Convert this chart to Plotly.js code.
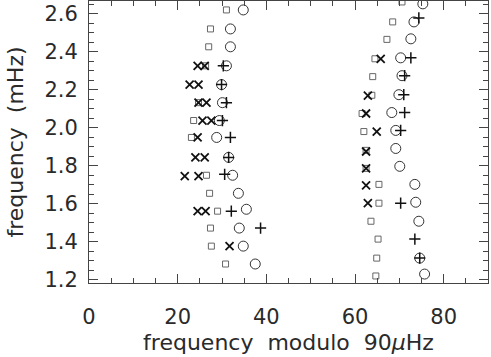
<!DOCTYPE html>
<html>
<head>
<meta charset="utf-8">
<script src="https://cdn.plot.ly/plotly-3.0.1.min.js"></script>
<style>
  html, body { margin: 0; padding: 0; background: #fff; }
  #grafico { width: 491px; height: 357px; }
</style>
</head>
<body>
<div id="grafico"></div>
<script>
  // frequency modulo 90 uHz (x) and frequency in mHz (y)
  let cuadX = [31.0, 27.4, 27.0, 26.3, 24.7, 23.6, 23.1, 26.5, 27.2, 29.0, 27.4, 27.6, 30.8,
               70.6, 68.5, 67.2, 64.5, 64.0, 63.8, 61.6, 62.0, 62.5, 62.5, 65.4, 65.4, 63.6, 65.2, 64.9, 64.7];
  let cuadY = [2.621, 2.521, 2.427, 2.327, 2.133, 2.039, 1.950, 1.751, 1.656, 1.562, 1.473, 1.378, 1.284,
               2.663, 2.558, 2.466, 2.364, 2.270, 2.172, 2.076, 1.981, 1.882, 1.787, 1.703, 1.604, 1.509, 1.415, 1.315, 1.221];

  let circX = [34.8, 31.9, 31.9, 31.0, 29.9, 30.1, 29.4, 28.8, 31.5, 32.4, 33.7, 35.5, 33.9, 34.8, 37.5,
               75.3, 73.3, 72.6, 70.3, 70.6, 69.9, 68.3, 69.2, 69.2, 70.1, 73.5, 73.7, 74.4, 74.6, 75.7];
  let circY = [2.621, 2.521, 2.427, 2.327, 2.228, 2.133, 2.039, 1.950, 1.845, 1.751, 1.656, 1.572, 1.473, 1.378, 1.284,
               2.653, 2.558, 2.469, 2.369, 2.275, 2.175, 2.081, 1.987, 1.892, 1.798, 1.703, 1.609, 1.509, 1.315, 1.231];

  let cruzX = [30.3, 29.9, 31.0, 30.1, 31.9, 31.5, 30.6, 32.1, 38.7,
               74.4, 72.6, 71.2, 71.0, 71.2, 70.3, 70.3, 73.5, 74.6];
  let cruzY = [2.327, 2.228, 2.133, 2.039, 1.950, 1.845, 1.756, 1.562, 1.473,
               2.579, 2.369, 2.275, 2.175, 2.081, 1.987, 1.604, 1.415, 1.315];

  let equisX = [24.5, 26.1, 22.7, 24.7, 24.7, 26.5, 25.6, 27.6, 24.5, 24.0, 26.1, 21.6, 24.7, 24.5, 26.3, 31.7,
                65.8, 62.9, 62.5, 64.9, 62.5, 62.5, 62.5, 62.9];
  let equisY = [2.327, 2.327, 2.228, 2.228, 2.133, 2.133, 2.039, 2.039, 1.950, 1.845, 1.845, 1.746, 1.746, 1.562, 1.562, 1.378,
                2.364, 2.170, 2.076, 1.981, 1.876, 1.787, 1.698, 1.604];

  let fuente = { family: 'DejaVu Sans', size: 21, color: '#2a2a2a' };
  let fuenteTitulo = { family: 'DejaVu Sans', size: 22, color: '#2a2a2a' };
  let hueco = '\u00a0\u00a0';

  let trazas = [
    { x: cuadX, y: cuadY, mode: 'markers', type: 'scatter',
      marker: { symbol: 'square-open', size: 6, color: '#666', line: { width: 1 } } },
    { x: circX, y: circY, mode: 'markers', type: 'scatter',
      marker: { symbol: 'circle-open', size: 10, color: '#333', line: { width: 1 } } },
    { x: cruzX, y: cruzY, mode: 'markers', type: 'scatter',
      marker: { symbol: 'cross-thin-open', size: 8, color: '#111', line: { width: 1.5 } } },
    { x: equisX, y: equisY, mode: 'markers', type: 'scatter',
      marker: { symbol: 'x-thin-open', size: 8, color: '#111', line: { width: 1.8 } } }
  ];

  let ejeComun = {
    showline: true, linecolor: '#444', linewidth: 1, mirror: 'ticks',
    ticks: 'inside', ticklen: 9, tickwidth: 1, tickcolor: '#444',
    showgrid: false, zeroline: false, tickfont: fuente
  };

  let layout = {
    width: 491, height: 357,
    margin: { l: 89, r: 3, t: 1, b: 74 },
    paper_bgcolor: '#fff', plot_bgcolor: '#fff',
    showlegend: false,
    xaxis: Object.assign({}, ejeComun, {
      range: [0, 90], dtick: 20, tick0: 0, ticklabelstandoff: 15,
      minor: { dtick: 5, ticks: 'inside', ticklen: 5, tickcolor: '#444' },
      title: { text: 'frequency' + hueco + 'modulo' + hueco + '90<i>μ</i>Hz', font: fuenteTitulo, standoff: 6 }
    }),
    yaxis: Object.assign({}, ejeComun, {
      range: [1.184, 2.668], dtick: 0.2, tick0: 1.2, tickformat: '.1f', ticklabelstandoff: 6,
      minor: { dtick: 0.05, ticks: 'inside', ticklen: 5, tickcolor: '#444' },
      title: { text: 'frequency' + hueco + '(mHz)', font: fuenteTitulo, standoff: 14 }
    })
  };

  Plotly.newPlot('grafico', trazas, layout, { displayModeBar: false, staticPlot: true });
</script>
</body>
</html>
